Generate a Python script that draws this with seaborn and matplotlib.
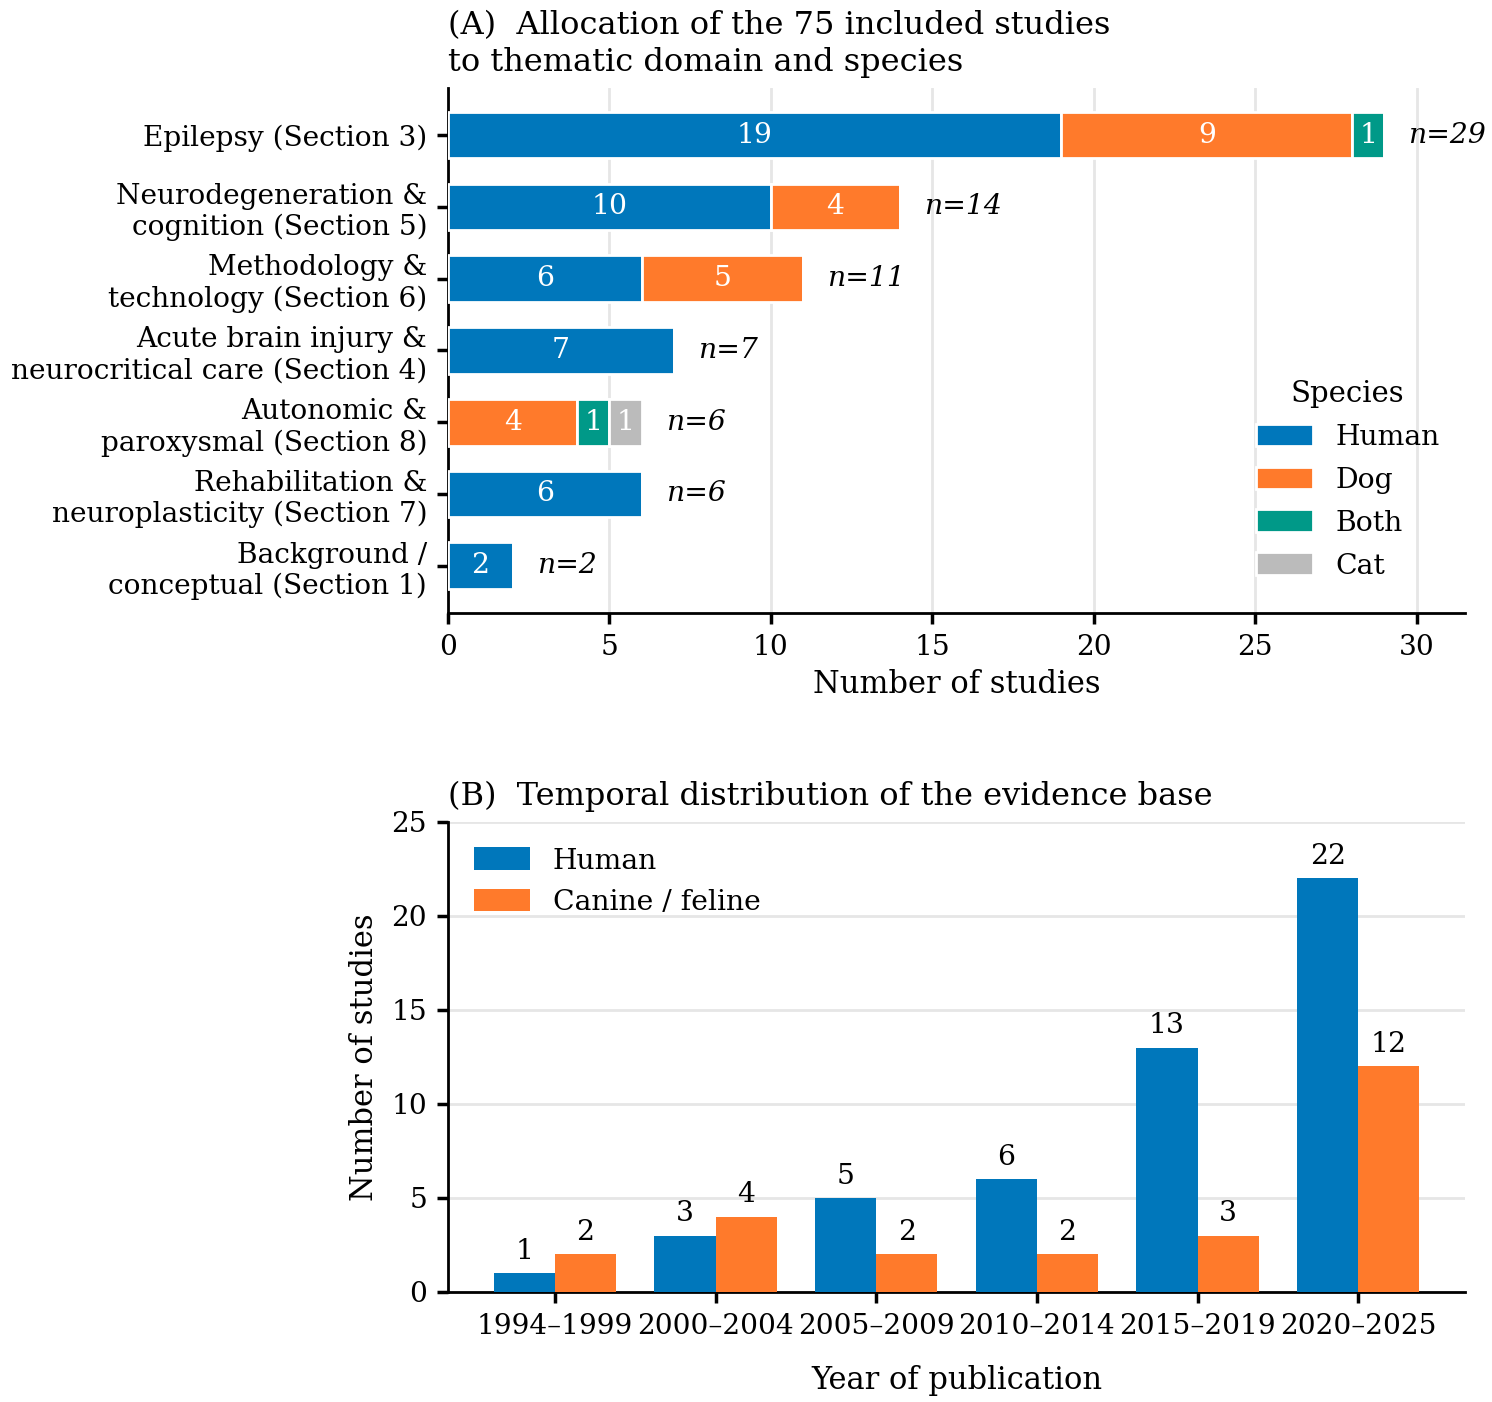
import matplotlib
matplotlib.use("Agg")
import matplotlib.pyplot as plt
import seaborn as sns
import numpy as np
import pandas as pd
from matplotlib.patches import Patch

# ---------------- data ----------------
domains = [
    "Epilepsy (Section 3)",
    "Neurodegeneration &\ncognition (Section 5)",
    "Methodology &\ntechnology (Section 6)",
    "Acute brain injury &\nneurocritical care (Section 4)",
    "Autonomic &\nparoxysmal (Section 8)",
    "Rehabilitation &\nneuroplasticity (Section 7)",
    "Background /\nconceptual (Section 1)",
]
species = ["Human", "Dog", "Both", "Cat"]
human_counts = [19, 10, 6, 7, 0, 6, 2]
dog_counts = [9, 4, 5, 0, 4, 0, 0]
both_counts = [1, 0, 0, 0, 1, 0, 0]
cat_counts = [0, 0, 0, 0, 1, 0, 0]

periods = ["1994–1999", "2000–2004", "2005–2009", "2010–2014", "2015–2019", "2020–2025"]
human_by_period = [1, 3, 5, 6, 13, 22]
canine_feline_by_period = [2, 4, 2, 2, 3, 12]

colors = {"Human": "#0077BB", "Dog": "#FF7A2B", "Both": "#009988", "Cat": "#BBBBBB"}

# ---------------- style ----------------
sns.set_theme(style="white")
plt.rcParams["font.family"] = ["DejaVu Serif"]
plt.rcParams.update({
    "font.size": 10,
    "axes.edgecolor": "black",
    "axes.linewidth": 1.0,
    "xtick.bottom": True,
    "ytick.left": True,
    "xtick.major.size": 4,
    "ytick.major.size": 4,
    "xtick.color": "black",
    "ytick.color": "black",
    "axes.labelcolor": "black",
    "text.color": "black",
})

fig = plt.figure(figsize=(7.46, 7.01), dpi=200)
axA = fig.add_axes([0.3003, 0.5628, 0.6816, 0.3745])
axB = fig.add_axes([0.3003, 0.0785, 0.6816, 0.3352])

# ---------------- panel A ----------------
dfA = pd.DataFrame({"domain": domains, "Human": human_counts, "Dog": dog_counts,
                    "Both": both_counts, "Cat": cat_counts})
ypos = np.arange(len(domains))
left = np.zeros(len(domains))
for sp in species:
    vals = dfA[sp].to_numpy(dtype=float)
    axA.barh(ypos, vals, left=left, height=0.65, color=colors[sp],
             edgecolor="white", linewidth=1.0, zorder=3, label=sp)
    for i, v in enumerate(vals):
        if v > 0:
            axA.text(left[i] + v / 2, ypos[i], f"{int(v)}", ha="center", va="center",
                     color="white", fontsize=10.2, zorder=4)
    left += vals
totals = left
for i, t in enumerate(totals):
    axA.text(t + 0.75, ypos[i], f"n={int(t)}", ha="left", va="center",
             style="italic", fontsize=10.2)

axA.set_yticks(ypos)
axA.set_yticklabels(domains, fontsize=10.1)
axA.invert_yaxis()
axA.set_xlim(0, 31.5)
axA.set_xticks([0, 5, 10, 15, 20, 25, 30])
axA.tick_params(axis="x", labelsize=10.1)
axA.set_xlabel("Number of studies", fontsize=11, labelpad=3)
axA.grid(axis="x", color="#e6e6e6", linewidth=1.0, zorder=0)
axA.set_axisbelow(True)
sns.despine(ax=axA)
axA.set_title("(A)  Allocation of the 75 included studies\nto thematic domain and species",
              loc="left", fontsize=11.5, pad=6, linespacing=1.25)
handles = [Patch(facecolor=colors[s], label=s) for s in species]
axA.legend(handles=handles, title="Species", loc="lower right", frameon=False,
           fontsize=10.2, title_fontsize=10.5, handlelength=2.0, handleheight=0.85,
           labelspacing=0.56, bbox_to_anchor=(1.0, 0.015))

# ---------------- panel B ----------------
dfB = pd.DataFrame({
    "period": periods * 2,
    "group": ["Human"] * len(periods) + ["Canine / feline"] * len(periods),
    "count": human_by_period + canine_feline_by_period,
})
sns.barplot(data=dfB, x="period", y="count", hue="group", order=periods,
            hue_order=["Human", "Canine / feline"],
            palette=[colors["Human"], colors["Dog"]], width=0.76,
            saturation=1, edgecolor="none", linewidth=0, ax=axB, zorder=3)
for cont in axB.containers:
    axB.bar_label(cont, fmt="%d", padding=3, fontsize=10.2)
axB.set_xlim(-0.665, 5.665)
axB.set_ylim(0, 25)
axB.set_yticks([0, 5, 10, 15, 20, 25])
axB.tick_params(axis="both", labelsize=10.1)
axB.set_xlabel("Year of publication", fontsize=11, labelpad=9)
axB.set_ylabel("Number of studies", fontsize=11)
axB.grid(axis="y", color="#e6e6e6", linewidth=1.0, zorder=0)
axB.set_axisbelow(True)
sns.despine(ax=axB)
axB.set_title("(B)  Temporal distribution of the evidence base", loc="left",
              fontsize=11.5, pad=6)
axB.legend(loc="upper left", frameon=False, fontsize=10.2, handlelength=2.0,
           handleheight=0.85, title=None)

fig.savefig("out.png", dpi=200)
